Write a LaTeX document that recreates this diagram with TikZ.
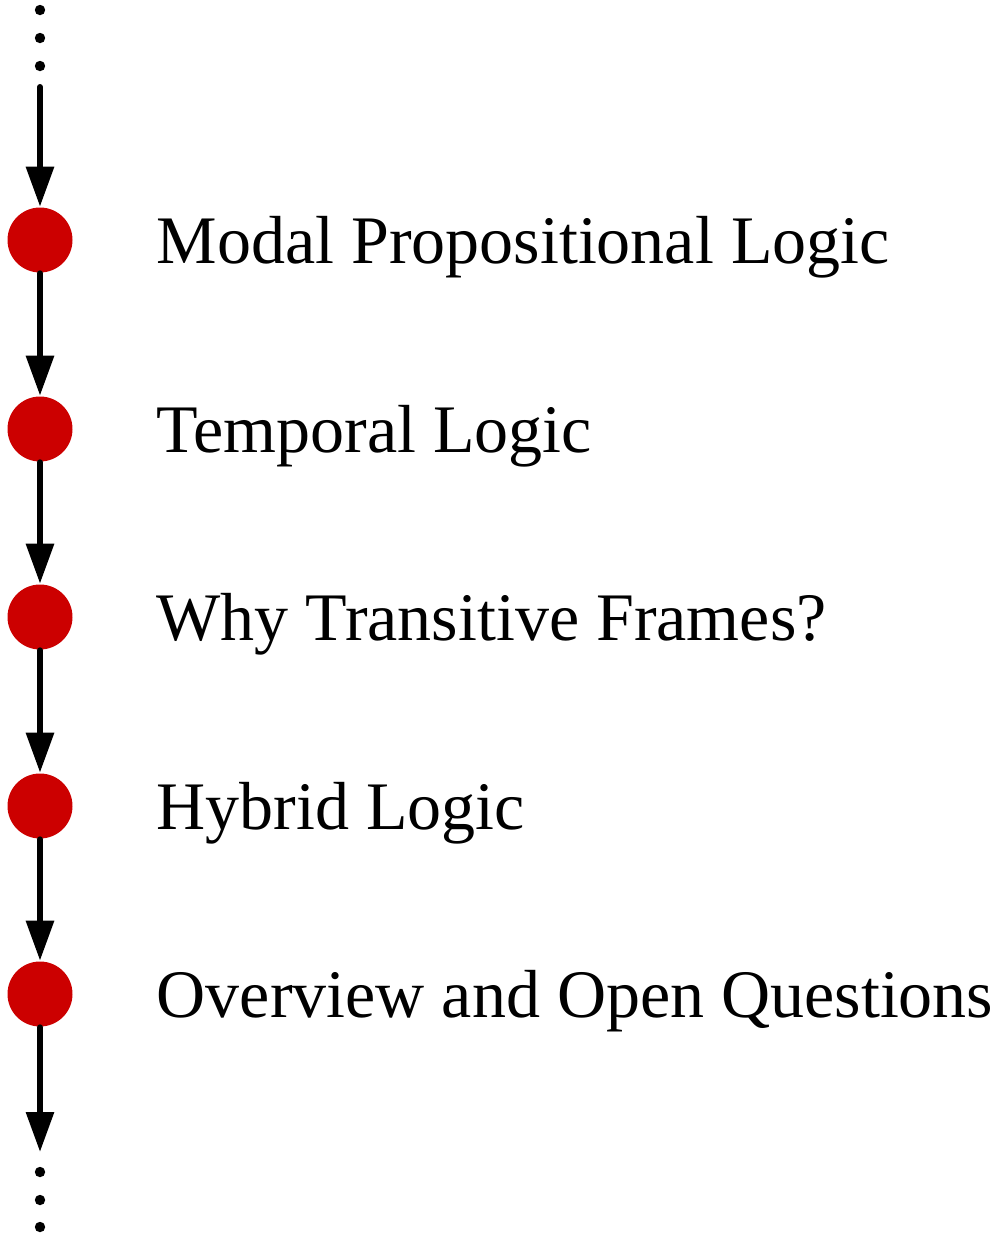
\documentclass[tikz,border=0pt]{standalone}
\usepackage{fontspec}
\setmainfont{Liberation Serif}
\usetikzlibrary{arrows.meta}

\definecolor{dotred}{HTML}{CC0000}

\begin{document}
\begin{tikzpicture}[x=0.25pt,y=-0.25pt,
    stage/.style={circle,fill=dotred,inner sep=0pt,minimum size=16.25pt},
    topic/.style={anchor=base west,inner sep=0pt,font=\fontsize{17}{20}\selectfont},
    flow/.style={line width=1.5pt,line cap=round,-{Triangle[length=10pt,width=6.75pt]}},
    ell/.style={circle,fill=black,inner sep=0pt,minimum size=2.6pt}]
          \useasboundingbox (0,0) rectangle (1001,1233);
          % dots above and below
          \foreach \y/\n in {10/t1,38/t2,66/t3,1172/b1,1200/b2,1227/b3}
            \node[ell] (\n) at (40,\y) {};
          \coordinate (start) at (40,87);
          \coordinate (end) at (40,1152);
          \node[stage] (mpl) at (40,240) {};
          \node[stage] (tl) at (40,429) {};
          \node[stage] (wtf) at (40,617) {};
          \node[stage] (hl) at (40,806) {};
          \node[stage] (ooq) at (40,994) {};
          \node[topic] (mpllab) at (156,263) {Modal Propositional Logic};
          \node[topic] (tllab) at (156,452) {Temporal Logic};
          \node[topic] (wtflab) at (156,640) {Why Transitive Frames?};
          \node[topic] (hllab) at (156,829) {Hybrid Logic};
          \node[topic] (ooqlab) at (156,1017) {Overview and Open Questions};
          \draw[flow] (start) -- (mpl);
          \draw[flow] (mpl) -- (tl);
          \draw[flow] (tl) -- (wtf);
          \draw[flow] (wtf) -- (hl);
          \draw[flow] (hl) -- (ooq);
          \draw[flow] (ooq) -- (end);
        \end{tikzpicture}
\end{document}
